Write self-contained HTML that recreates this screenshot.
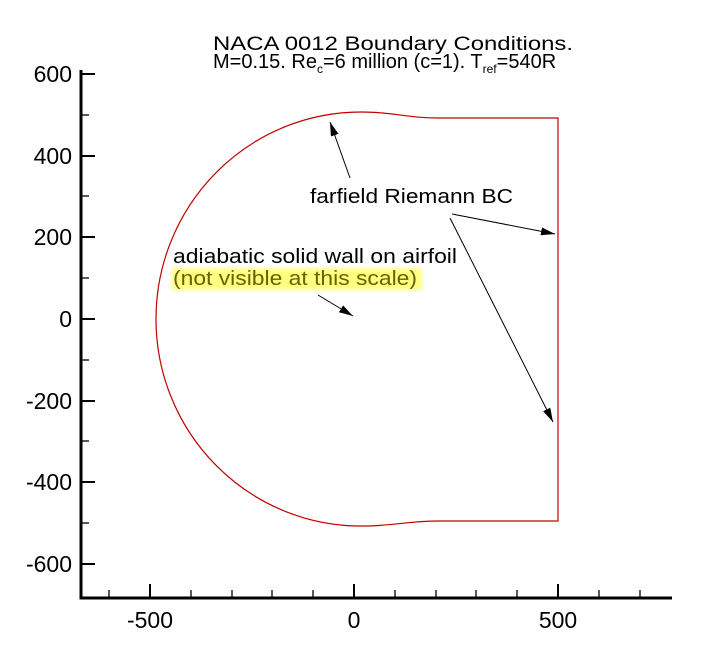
<!DOCTYPE html>
<html><head><style>body{margin:0;background:#fff}</style></head><body>
<svg width="714" height="648" xmlns="http://www.w3.org/2000/svg" font-family="Liberation Sans, sans-serif">
<defs><marker id="a" markerWidth="14" markerHeight="8" refX="14" refY="4" orient="auto" markerUnits="userSpaceOnUse"><path d="M0,0 L14,4 L0,8 Z" fill="#000"/></marker>
<filter id="g"><feGaussianBlur stdDeviation="2"/></filter></defs>
<rect width="714" height="648" fill="#fff"/>
<g stroke="#000" stroke-width="3" fill="none">
<path d="M81,70 L81,598 L672,598"/>
</g>
<g stroke="#000" stroke-width="2">
<line x1="150" y1="598" x2="150" y2="584"/><line x1="354" y1="598" x2="354" y2="584"/><line x1="558" y1="598" x2="558" y2="584"/>
<line x1="81" y1="74" x2="95" y2="74"/><line x1="81" y1="156" x2="95" y2="156"/><line x1="81" y1="237" x2="95" y2="237"/><line x1="81" y1="319" x2="95" y2="319"/><line x1="81" y1="401" x2="95" y2="401"/><line x1="81" y1="482" x2="95" y2="482"/><line x1="81" y1="564" x2="95" y2="564"/>
</g>
<g stroke="#000" stroke-width="1.3">
<line x1="109" y1="598" x2="109" y2="590"/><line x1="191" y1="598" x2="191" y2="590"/><line x1="232" y1="598" x2="232" y2="590"/><line x1="272" y1="598" x2="272" y2="590"/><line x1="313" y1="598" x2="313" y2="590"/><line x1="395" y1="598" x2="395" y2="590"/><line x1="436" y1="598" x2="436" y2="590"/><line x1="476" y1="598" x2="476" y2="590"/><line x1="517" y1="598" x2="517" y2="590"/><line x1="599" y1="598" x2="599" y2="590"/><line x1="640" y1="598" x2="640" y2="590"/>
<line x1="81" y1="115" x2="89" y2="115"/><line x1="81" y1="196" x2="89" y2="196"/><line x1="81" y1="278" x2="89" y2="278"/><line x1="81" y1="360" x2="89" y2="360"/><line x1="81" y1="441" x2="89" y2="441"/><line x1="81" y1="523" x2="89" y2="523"/>
</g>
<g font-size="23" fill="#000">
<text x="150" y="628" text-anchor="middle">-500</text><text x="354" y="628" text-anchor="middle">0</text><text x="558" y="628" text-anchor="middle">500</text>
<g text-anchor="end"><text x="72" y="82">600</text><text x="72" y="164">400</text><text x="72" y="245">200</text><text x="72" y="327">0</text><text x="72" y="409">-200</text><text x="72" y="490">-400</text><text x="72" y="572">-600</text></g>
</g>
<g font-size="19" fill="#000">
<text x="213" y="50" textLength="360" lengthAdjust="spacingAndGlyphs">NACA 0012 Boundary Conditions.</text>
<text x="213" y="68" font-size="20">M=0.15. Re<tspan font-size="12" dy="5">c</tspan><tspan dy="-5">=6 million (c=1). T</tspan><tspan font-size="12" dy="5">ref</tspan><tspan dy="-5">=540R</tspan></text>
</g>
<path d="M558,118 L440,118 C405,118 395,112 362,112 A205 207 0 0 0 156 319 A205 207 0 0 0 362 526 C395,526 405,521 440,521 L558,521 Z" fill="none" stroke="#c00000" stroke-width="1.2"/>
<rect x="172" y="268" width="250" height="22" fill="#ffff80" filter="url(#g)"/>
<g font-size="20" fill="#000">
<text x="310" y="203" textLength="203" lengthAdjust="spacingAndGlyphs">farfield Riemann BC</text>
<text x="173" y="263" textLength="284" lengthAdjust="spacingAndGlyphs">adiabatic solid wall on airfoil</text>
<text x="173" y="285" fill="#6b6000" textLength="244" lengthAdjust="spacingAndGlyphs">(not visible at this scale)</text>
</g>
<g stroke="#000" stroke-width="1" marker-end="url(#a)">
<line x1="350" y1="178" x2="330" y2="122"/>
<line x1="452" y1="214" x2="555" y2="234"/>
<line x1="450" y1="218" x2="553" y2="422"/>
<line x1="318" y1="295" x2="353" y2="316"/>
</g>
</svg>
</body></html>
